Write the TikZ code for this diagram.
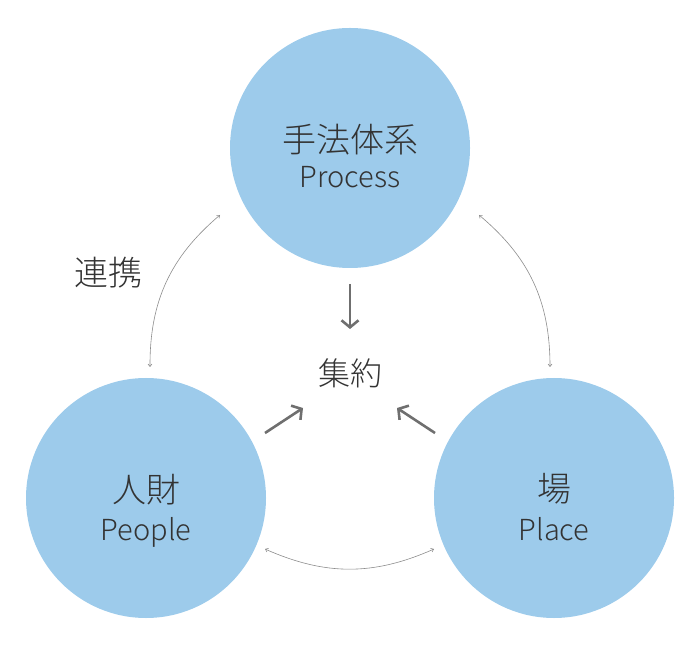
\documentclass[tikz,border=0pt]{standalone}
\usepackage{fontspec}
\IfFontExistsTF{Noto Sans CJK JP Light}
  {\setmainfont{Noto Sans CJK JP Light}}
  {\setmainfont{Noto Sans CJK JP}}
\usetikzlibrary{arrows.meta}
\definecolor{circleblue}{HTML}{9DCBEB}
\definecolor{inkgray}{HTML}{333333}
\definecolor{arrowgray}{HTML}{6F6F6F}
\definecolor{arcgray}{HTML}{8C8C8C}
\begin{document}
\begin{tikzpicture}[x=1pt, y=1pt,
    pillar/.style={circle, fill=circleblue, minimum size=240pt, inner sep=0pt},
    jp/.style={inner sep=0pt, text=inkgray, font=\fontsize{34}{40}\selectfont},
    en/.style={inner sep=0pt, anchor=base, text=inkgray, font=\fontsize{29}{34}\selectfont},
    link/.style={draw=arcgray, line width=0.6pt, {Straight Barb[length=2.5pt,width=4pt]}-{Straight Barb[length=2.5pt,width=4pt]}},
    gather/.style={draw=arrowgray, line width=2.6pt, -{Straight Barb[length=7pt,width=17pt]}}]
    \useasboundingbox (0,0) rectangle (700,645);
    % the three circles
    \node[pillar] (process) at (350,497) {};
    \node[pillar] (people) at (146,147) {};
    \node[pillar] (place) at (554,147) {};
    \node[jp] (process-jp) at ([yshift=8]process.center) {手法体系};
    \node[en] (process-en) at ([yshift=-40]process.center) {Process};
    \node[jp] (people-jp) at ([yshift=8]people.center) {人財};
    \node[en] (people-en) at ([yshift=-42]people.center) {People};
    \node[jp] (place-jp) at ([yshift=9]place.center) {場};
    \node[en] (place-en) at ([yshift=-42]place.center) {Place};
    % middle
    \node[jp, font=\fontsize{32}{38}\selectfont] (hub) at (350,272) {集約};
    \node[jp] (link-jp) at (108,372) {連携};
    % ends of the arcs
    \coordinate (lt) at (220,430);
    \coordinate (lb) at (150,278);
    \coordinate (rt) at (479,430);
    \coordinate (rb) at (550,278);
    \coordinate (bl) at (265,96);
    \coordinate (br) at (434,96);
    \draw[link] (lt) to[bend right=25] (lb);
    \draw[link] (rt) to[bend left=25] (rb);
    \draw[link] (bl) to[bend right=24] (br);
    % arrows into the middle
    \coordinate (down-a) at (350,361);
    \coordinate (down-b) at (350,316);
    \coordinate (left-a) at (265,212);
    \coordinate (left-b) at (303,237);
    \coordinate (right-a) at (435,212);
    \coordinate (right-b) at (397,237);
    \draw[gather] (down-a) -- (down-b);
    \draw[gather] (left-a) -- (left-b);
    \draw[gather] (right-a) -- (right-b);
\end{tikzpicture}
\end{document}
